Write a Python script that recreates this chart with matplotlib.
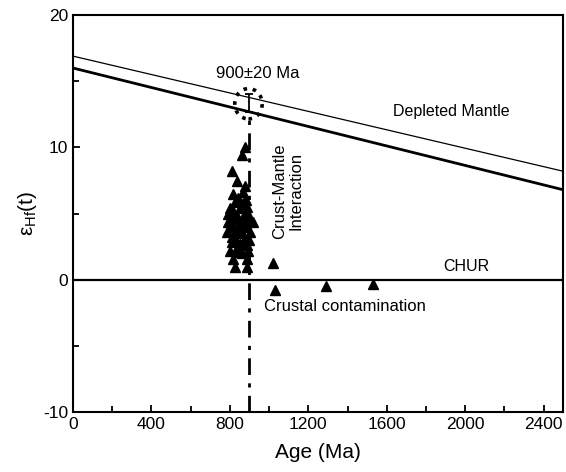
import matplotlib
matplotlib.use("Agg")
import matplotlib.pyplot as plt
from matplotlib.patches import Ellipse
from matplotlib.ticker import MultipleLocator

plt.rcParams['font.family'] = ['Liberation Sans', 'DejaVu Sans']
plt.rcParams['axes.unicode_minus'] = False
plt.rcParams['mathtext.fontset'] = 'custom'
plt.rcParams['mathtext.rm'] = 'Liberation Sans'
plt.rcParams['mathtext.it'] = 'Liberation Sans:italic'

# Data
age_cluster = [877, 860, 809, 834, 877, 817, 843, 826, 800, 851, 885, 792, 834, 877,
               902, 919, 800, 843, 885, 783, 826, 860, 902, 809, 851, 885, 800, 843,
               894, 817, 885, 826, 885, 817, 860, 808, 870, 830, 790, 868, 860, 820,
               850, 900, 875, 812, 838, 880, 865]
eps_cluster = [10.0, 9.4, 8.2, 7.5, 7.1, 6.5, 6.2, 5.9, 5.4, 5.4, 5.5, 5.0, 4.85, 5.0,
               4.7, 4.35, 4.35, 4.1, 4.0, 3.6, 3.5, 3.5, 3.6, 2.85, 2.7, 2.6, 2.2, 2.1,
               2.2, 1.6, 1.6, 0.95, 0.95, 5.2, 4.6, 4.0, 3.0, 3.0, 4.4, 5.8, 2.0, 4.6,
               3.8, 3.0, 4.3, 3.2, 2.4, 6.0, 6.6]
age_other = [1020, 1030, 1290, 1530]
eps_other = [1.3, -0.8, -0.45, -0.3]

dm_age = [0, 2500]
dm_thick = [16.0, 6.8]
dm_thin = [16.9, 8.2]
chur_age = [0, 2500]
chur_eps = [0, 0]
ref_age = 900
ref_eps_top = 12.5
ref_err = (13.35, 0.65)

fig = plt.figure(figsize=(5.66, 4.72), dpi=100)
ax = fig.add_axes([0.129, 0.127, 0.866, 0.841])

ax.plot(dm_age, dm_thin, color='black', lw=0.9)
ax.plot(dm_age, dm_thick, color='black', lw=2.0)
ax.plot(chur_age, chur_eps, color='black', lw=1.6)
ax.plot([ref_age, ref_age], [-10, ref_eps_top], color='black', lw=2.0,
        linestyle=(0, (6, 3, 1.5, 3)))
ax.errorbar([ref_age], [ref_err[0]], yerr=[ref_err[1]], color='black', lw=1.3,
            capsize=3, capthick=1.3)
ax.add_patch(Ellipse((895, 13.3), 140, 2.3, fill=False, linestyle=(0, (1, 1.6)),
                     lw=2.6, edgecolor='black'))

ax.plot(age_cluster, eps_cluster, linestyle='none', marker='^', color='black', ms=7.5)
ax.plot(age_other, eps_other, linestyle='none', marker='^', color='black', ms=7.5)

ax.text(940, 15.6, '900±20 Ma', fontsize=12, ha='center', va='center')
ax.text(1930, 12.75, 'Depleted Mantle', fontsize=11.5, ha='center', va='center')
ax.text(2008, 1.0, 'CHUR', fontsize=11.5, ha='center', va='center')
ax.text(975, -2.0, 'Crustal contamination', fontsize=12, ha='left', va='center')
ax.text(1096, 6.7, 'Crust-Mantle\nInteraction', fontsize=12, ha='center',
        va='center', rotation=90, linespacing=1.1)

ax.set_xlim(0, 2500)
ax.set_ylim(-10, 20)
ax.xaxis.set_major_locator(MultipleLocator(400))
ax.xaxis.set_minor_locator(MultipleLocator(200))
ax.yaxis.set_major_locator(MultipleLocator(10))
ax.yaxis.set_minor_locator(MultipleLocator(5))
ax.tick_params(which='both', direction='in', top=False, right=False, width=1.3,
               labelsize=12.5)
ax.tick_params(which='major', length=5)
ax.tick_params(which='minor', length=4)
for s in ax.spines.values():
    s.set_linewidth(1.5)

ax.set_xlabel('Age (Ma)', fontsize=15, labelpad=8)
ax.set_ylabel(r'$\mathrm{\varepsilon_{Hf}}$(t)', fontsize=15, labelpad=3)

fig.savefig('out.png', dpi=100)
